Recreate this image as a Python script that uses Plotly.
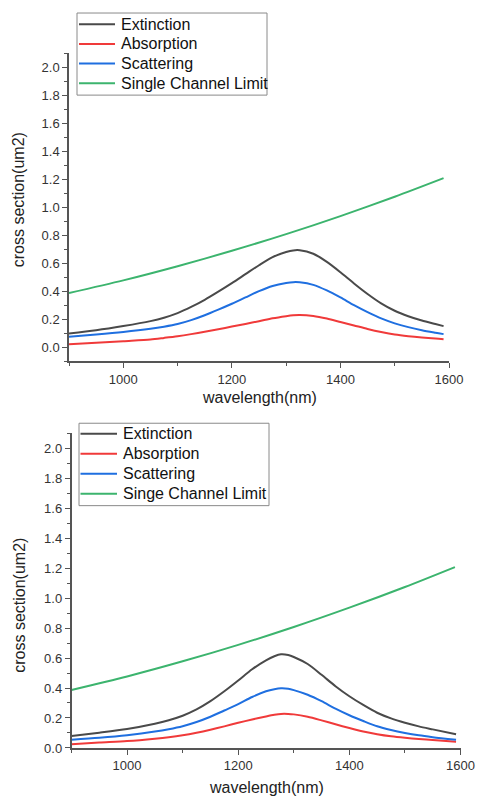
import plotly.graph_objects as go

# ---------------- data ----------------
# Top panel
wl_top = [900, 950, 1000, 1050, 1075, 1100, 1125, 1150, 1175, 1200, 1225, 1250, 1275, 1300, 1313, 1325,
          1350, 1375, 1400, 1425, 1450, 1475, 1500, 1525, 1550, 1575, 1590]
sca_top = [0.074, 0.090, 0.108, 0.131, 0.146, 0.165, 0.193, 0.228, 0.268, 0.310, 0.355, 0.400, 0.437,
           0.458, 0.464, 0.463, 0.445, 0.405, 0.355, 0.300, 0.250, 0.205, 0.170, 0.143, 0.121, 0.103, 0.093]
abs_top = [0.021, 0.031, 0.043, 0.055, 0.066, 0.078, 0.093, 0.110, 0.128, 0.147, 0.166, 0.185, 0.206,
           0.221, 0.227, 0.229, 0.222, 0.204, 0.180, 0.155, 0.130, 0.108, 0.090, 0.078, 0.069, 0.062, 0.057]
ext_top = [0.098, 0.121, 0.151, 0.186, 0.210, 0.243, 0.287, 0.338, 0.396, 0.457, 0.521, 0.585, 0.643,
           0.679, 0.691, 0.692, 0.667, 0.609, 0.535, 0.455, 0.380, 0.313, 0.260, 0.221, 0.190, 0.165, 0.150]

# Bottom panel
wl_bot = [900, 950, 1000, 1050, 1075, 1100, 1125, 1150, 1175, 1200, 1225, 1250, 1265, 1277, 1290, 1300,
          1325, 1350, 1375, 1400, 1425, 1450, 1475, 1500, 1525, 1550, 1592]
ext_bot = [0.080, 0.102, 0.127, 0.162, 0.185, 0.215, 0.257, 0.312, 0.378, 0.450, 0.525, 0.585, 0.612,
           0.625, 0.620, 0.607, 0.560, 0.488, 0.412, 0.345, 0.287, 0.235, 0.197, 0.168, 0.144, 0.124, 0.091]
sca_bot = [0.055, 0.068, 0.085, 0.109, 0.125, 0.145, 0.173, 0.208, 0.250, 0.292, 0.340, 0.378, 0.392,
           0.398, 0.395, 0.386, 0.355, 0.312, 0.262, 0.218, 0.180, 0.145, 0.120, 0.100, 0.084, 0.072, 0.055]
abs_bot = [0.025, 0.036, 0.046, 0.062, 0.072, 0.085, 0.102, 0.122, 0.144, 0.168, 0.190, 0.210, 0.221,
           0.227, 0.227, 0.224, 0.208, 0.184, 0.158, 0.133, 0.110, 0.092, 0.078, 0.068, 0.060, 0.053, 0.042]

# Single channel limit (both panels)
wl_lim = [900, 1000, 1100, 1200, 1300, 1400, 1500, 1590]
lim = [0.387, 0.477, 0.578, 0.688, 0.807, 0.936, 1.074, 1.207]

names_top = ["Extinction", "Absorption", "Scattering", "Single Channel Limit"]
names_bot = ["Extinction", "Absorption", "Scattering", "Singe Channel Limit"]
colors = ["#4a4a4a", "#f03a3a", "#1f6fe0", "#3cb46e"]

x_tickvals = [1000, 1200, 1400, 1600]
y_tickvals = [0.0, 0.2, 0.4, 0.6, 0.8, 1.0, 1.2, 1.4, 1.6, 1.8, 2.0]

FONT = "Liberation Sans, Arial, sans-serif"
W, H = 478, 796
# size the figure actually occupies in the captured page (measured)
W_EFF, H_EFF = 464, 787


def px(x):
    return x / W_EFF


def py(y):
    return 1 - y / H_EFF


fig = go.Figure()

top_series = [(wl_top, ext_top), (wl_top, abs_top), (wl_top, sca_top), (wl_lim, lim)]
bot_series = [(wl_bot, ext_bot), (wl_bot, abs_bot), (wl_bot, sca_bot), (wl_lim, lim)]

for (x, y), n, c in zip(top_series, names_top, colors):
    fig.add_trace(go.Scatter(x=x, y=y, name=n, mode="lines", showlegend=False,
                             line=dict(color=c, width=2, shape="spline", smoothing=0.8),
                             xaxis="x", yaxis="y"))
for (x, y), n, c in zip(bot_series, names_bot, colors):
    fig.add_trace(go.Scatter(x=x, y=y, name=n, mode="lines", showlegend=False,
                             line=dict(color=c, width=2, shape="spline", smoothing=0.8),
                             xaxis="x2", yaxis="y2"))

axis_common = dict(showgrid=False, zeroline=False, showline=True, linecolor="#555555",
                   linewidth=1.5, ticks="outside", ticklen=5, tickwidth=1.3,
                   tickcolor="#555555", tickfont=dict(family=FONT, size=13, color="#333333"))

fig.update_layout(
    width=W, height=H,
    margin=dict(l=0, r=0, t=0, b=0),
    paper_bgcolor="white", plot_bgcolor="white",
    font=dict(family=FONT),
    showlegend=False,
    xaxis=dict(domain=[px(69), px(449)], range=[900, 1600], anchor="y",
               tickvals=x_tickvals,
               minor=dict(dtick=100, tick0=900, ticks="outside", ticklen=3, tickcolor="#555555"),
               **axis_common),
    yaxis=dict(domain=[py(360.7), py(53)], range=[-0.1, 2.1], anchor="x",
               tickvals=y_tickvals, tickformat=".1f",
               minor=dict(dtick=0.1, tick0=0, ticks="outside", ticklen=3, tickcolor="#555555"),
               **axis_common),
    xaxis2=dict(domain=[px(71.5), px(460.5)], range=[900, 1600], anchor="y2",
                tickvals=x_tickvals,
                minor=dict(dtick=100, tick0=900, ticks="outside", ticklen=3, tickcolor="#555555"),
                **axis_common),
    yaxis2=dict(domain=[py(747), py(432.7)], range=[0, 2.1], anchor="x2",
                tickvals=y_tickvals, tickformat=".1f",
                minor=dict(dtick=0.1, tick0=0, ticks="outside", ticklen=3, tickcolor="#555555"),
                **axis_common),
)

title_font = dict(family=FONT, size=16, color="#222222")
annos = [
    dict(text="wavelength(nm)", x=px(259), y=py(397), xref="paper", yref="paper",
         showarrow=False, font=title_font, xanchor="center", yanchor="middle"),
    dict(text="wavelength(nm)", x=px(266), y=py(786.5), xref="paper", yref="paper",
         showarrow=False, font=title_font, xanchor="center", yanchor="middle"),
    dict(text="cross section(um2)", x=px(18), y=py(200), xref="paper", yref="paper",
         showarrow=False, font=title_font, textangle=-90, xanchor="center", yanchor="middle"),
    dict(text="cross section(um2)", x=px(20), y=py(605), xref="paper", yref="paper",
         showarrow=False, font=title_font, textangle=-90, xanchor="center", yanchor="middle"),
]

shapes = []
# Framed legends, as in the original
legend_specs = [
    dict(box=(77, 13, 267, 95), line_x=(79, 115), text_x=119, y0=24.3, dy=19.6, names=names_top),
    dict(box=(79, 422.7, 269, 505), line_x=(80.5, 117), text_x=121, y0=433.3, dy=19.9, names=names_bot),
]
for spec in legend_specs:
    bx0, by0, bx1, by1 = spec["box"]
    shapes.append(dict(type="rect", xref="paper", yref="paper",
                       x0=px(bx0), x1=px(bx1), y0=py(by1), y1=py(by0),
                       line=dict(color="#8a8a8a", width=1), fillcolor="white", layer="above"))
    for i, (n, c) in enumerate(zip(spec["names"], colors)):
        yy = spec["y0"] + i * spec["dy"]
        shapes.append(dict(type="line", xref="paper", yref="paper",
                           x0=px(spec["line_x"][0]), x1=px(spec["line_x"][1]),
                           y0=py(yy), y1=py(yy), line=dict(color=c, width=2), layer="above"))
        annos.append(dict(text=n, x=px(spec["text_x"]), y=py(yy), xref="paper", yref="paper",
                          showarrow=False, xanchor="left", yanchor="middle",
                          font=dict(family=FONT, size=16, color="#111111")))

fig.update_layout(annotations=annos, shapes=shapes)

fig.write_html("out.html")
